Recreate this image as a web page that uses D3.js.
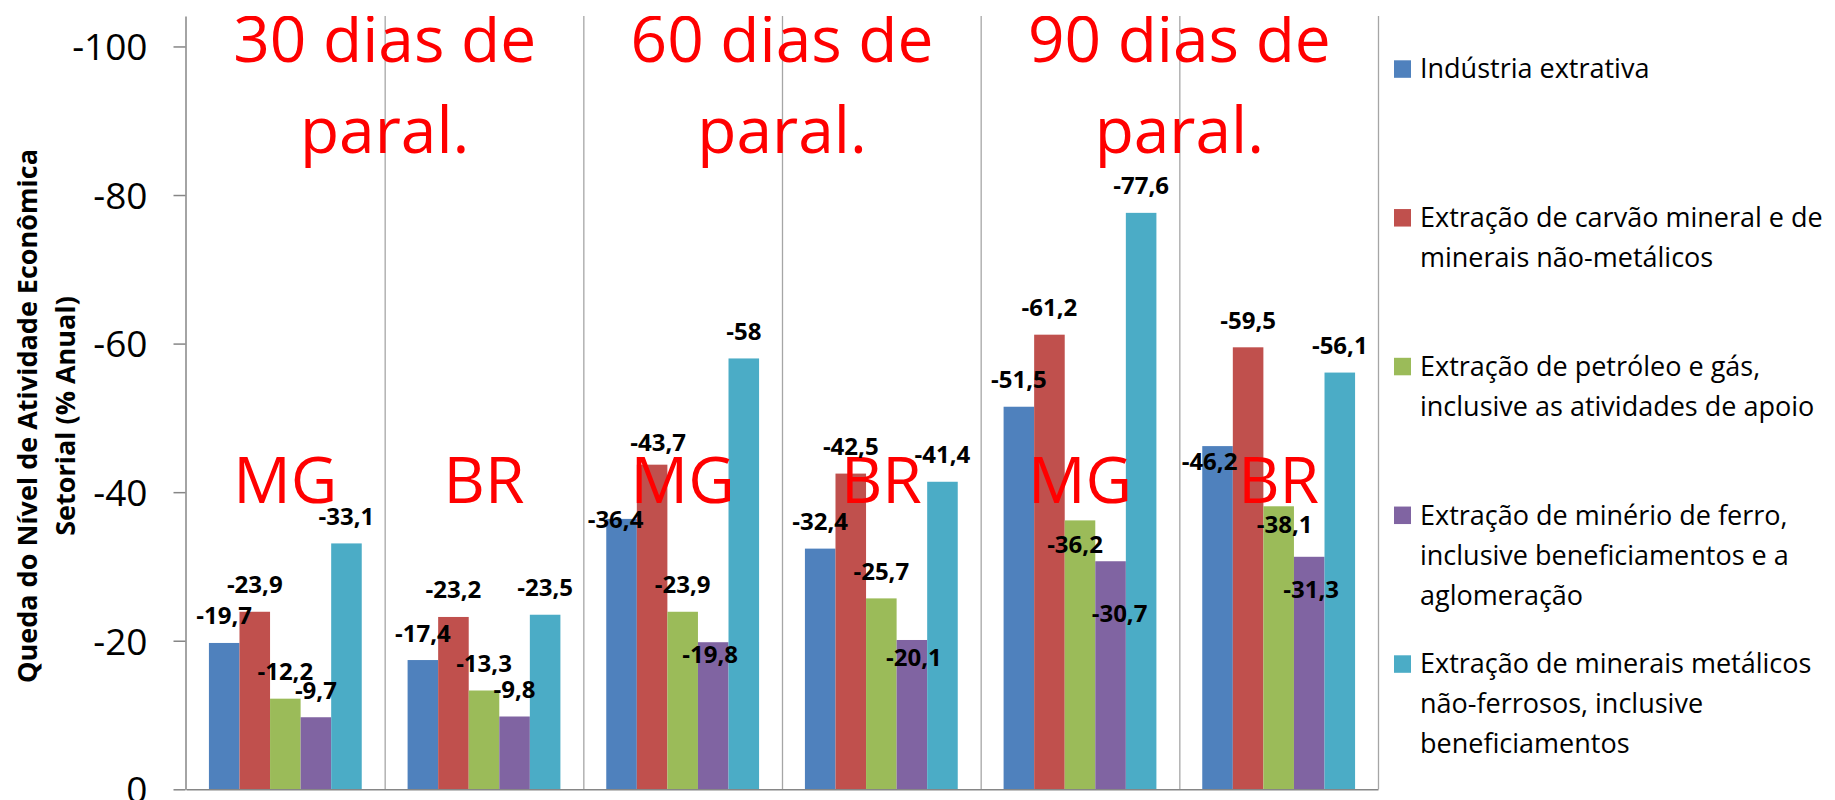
<!DOCTYPE html>
<html lang="pt">
<head>
<meta charset="utf-8">
<title>Queda do Nível de Atividade Econômica Setorial</title>
<script src="https://d3js.org/d3.v7.min.js"></script>
<style>
  body { margin: 0; background: #fff; }
  text { font-family: "Open Sans", sans-serif; }
  .yAxis .tick text { font-size: 37px; fill: #000; }
  .value { font-size: 24px; font-weight: bold; fill: #000; }
  .red { fill: #ff0000; font-size: 64px; }
  .legend text { font-size: 27px; fill: #000; }
  .ytitle { font-size: 27px; font-weight: bold; fill: #000; }
</style>
</head>
<body>
<script>
// categories (6 bar groups)
const groups = ["MG 30", "BR 30", "MG 60", "BR 60", "MG 90", "BR 90"];
const regionLabels = ["MG", "BR", "MG", "BR", "MG", "BR"];
const periodLabels = [["30 dias de", "paral."], ["60 dias de", "paral."], ["90 dias de", "paral."]];

// series
const seriesNames = [
  "Indústria extrativa",
  "Extração de carvão mineral e de minerais não-metálicos",
  "Extração de petróleo e gás, inclusive as atividades de apoio",
  "Extração de minério de ferro, inclusive beneficiamentos e a aglomeração",
  "Extração de minerais metálicos não-ferrosos, inclusive beneficiamentos"
];
const legendLines = [
  ["Indústria extrativa"],
  ["Extração de carvão mineral e de", "minerais não-metálicos"],
  ["Extração de petróleo e gás,", "inclusive as atividades de apoio"],
  ["Extração de minério de ferro,", "inclusive beneficiamentos e a", "aglomeração"],
  ["Extração de minerais metálicos", "não-ferrosos, inclusive", "beneficiamentos"]
];
const industriaExtrativa   = [-19.7, -17.4, -36.4, -32.4, -51.5, -46.2];
const carvaoNaoMetalicos   = [-23.9, -23.2, -43.7, -42.5, -61.2, -59.5];
const petroleoGas          = [-12.2, -13.3, -23.9, -25.7, -36.2, -38.1];
const minerioFerro         = [-9.7, -9.8, -19.8, -20.1, -30.7, -31.3];
const metalicosNaoFerrosos = [-33.1, -23.5, -58, -41.4, -77.6, -56.1];
const yTicks = [0, -20, -40, -60, -80, -100];

const colors = ["#4F81BD", "#C0504D", "#9BBB59", "#8064A2", "#4BACC6"];
const seriesValues = [industriaExtrativa, carvaoNaoMetalicos, petroleoGas, minerioFerro, metalicosNaoFerrosos];

// hand-moved data labels in the original (group,series -> [dx, dy] px)
const labelNudge = {
  "2,0": [-6, 28], "2,1": [6, 5], "2,3": [-3, 39],
  "3,3": [2, 45],
  "4,2": [-5, 51], "4,3": [9, 79],
  "5,0": [-8, 42], "5,2": [6, 45], "5,3": [2, 60]
};

const w = 1835, h = 800;
const pLeft = 186, pRight = 1378, pTop = 16, pBottom = 789.3;

const svg = d3.select("body").append("svg")
  .attr("width", w).attr("height", h);

svg.append("clipPath").attr("id", "clip")
  .append("rect").attr("x", 0).attr("y", pTop).attr("width", w).attr("height", h - pTop);

// scales
const y = d3.scaleLinear().domain([0, -104.1]).range([pBottom, pTop]);
const x0 = d3.scaleBand().domain(groups).range([pLeft, pRight]);
const x1 = d3.scaleBand().domain(d3.range(seriesNames.length))
  .range([0, x0.bandwidth()]).paddingInner(0).paddingOuter(0.75);

// vertical separators
svg.append("g").selectAll("line")
  .data(groups)
  .join("line")
  .attr("x1", d => x0(d) + x0.bandwidth() + 0.5)
  .attr("x2", d => x0(d) + x0.bandwidth() + 0.5)
  .attr("y1", pTop).attr("y2", pBottom)
  .attr("stroke", "#a6a6a6").attr("stroke-width", 1.3);

// bars
const rows = [];
groups.forEach((g, gi) => seriesValues.forEach((vals, si) => rows.push({g, gi, si, v: vals[gi]})));

svg.append("g").selectAll("rect")
  .data(rows)
  .join("rect")
  .attr("x", d => x0(d.g) + x1(d.si))
  .attr("y", d => y(d.v))
  .attr("width", x1.bandwidth())
  .attr("height", d => y(0) - y(d.v))
  .attr("fill", d => colors[d.si]);

// axes
svg.append("g")
  .attr("transform", `translate(0,${pBottom})`)
  .call(d3.axisBottom(x0).tickSize(0).tickFormat(""))
  .call(g => g.select(".domain").attr("stroke", "#868686").attr("stroke-width", 1.5));

svg.append("g")
  .attr("class", "yAxis")
  .attr("transform", `translate(${pLeft - 0.5},0)`)
  .call(d3.axisLeft(y).tickValues(yTicks).tickSize(12).tickSizeOuter(0).tickPadding(26)
          .tickFormat(d => String(d)))
  .call(g => g.select(".domain").attr("stroke", "#868686").attr("stroke-width", 1.5))
  .call(g => g.selectAll(".tick line").attr("stroke", "#868686").attr("stroke-width", 1.5))
  .call(g => g.selectAll(".tick text").attr("dy", "0.36em").style("font-family", "'Open Sans', sans-serif"));

// red annotations
const notes = svg.append("g").attr("clip-path", "url(#clip)");
periodLabels.forEach((lines, i) => {
  const cx = x0(groups[i * 2]) + x0.bandwidth();
  notes.append("text").attr("class", "red")
    .attr("text-anchor", "middle")
    .selectAll("tspan").data(lines).join("tspan")
    .attr("x", cx)
    .attr("y", (d, k) => 61.7 + k * 91.6)
    .text(d => d);
});
notes.selectAll("text.region")
  .data(groups)
  .join("text")
  .attr("class", "red region")
  .attr("text-anchor", "middle")
  .attr("x", d => x0(d) + x0.bandwidth() / 2)
  .attr("y", 503.3)
  .text((d, i) => regionLabels[i]);

// data labels
svg.append("g").selectAll("text")
  .data(rows)
  .join("text")
  .attr("class", "value")
  .attr("text-anchor", "middle")
  .attr("x", d => x0(d.g) + x1(d.si) + x1.bandwidth() / 2 + (labelNudge[d.gi + "," + d.si] || [0, 0])[0])
  .attr("y", d => y(d.v) - 18.5 + (labelNudge[d.gi + "," + d.si] || [0, 0])[1])
  .text(d => String(d.v).replace(".", ","));

// y axis title
svg.append("text")
  .attr("class", "ytitle")
  .attr("text-anchor", "middle")
  .attr("transform", "translate(36.5,416) rotate(-90)")
  .selectAll("tspan")
  .data(["Queda do Nível de Atividade Econômica", "Setorial (% Anual)"])
  .join("tspan")
  .attr("x", 0)
  .attr("y", (d, i) => i * 38)
  .text(d => d);

// legend
const legend = svg.append("g").attr("class", "legend");
legendLines.forEach((lines, i) => {
  const g = legend.append("g")
    .attr("transform", `translate(1394,${69 + i * 148.75})`);
  g.append("rect")
    .attr("x", 0).attr("y", -8.7)
    .attr("width", 17).attr("height", 17.5)
    .attr("fill", colors[i]);
  g.append("text")
    .selectAll("tspan").data(lines).join("tspan")
    .attr("x", 26)
    .attr("y", (d, k) => 9.3 + k * 40)
    .text(d => d);
});
</script>
</body>
</html>
